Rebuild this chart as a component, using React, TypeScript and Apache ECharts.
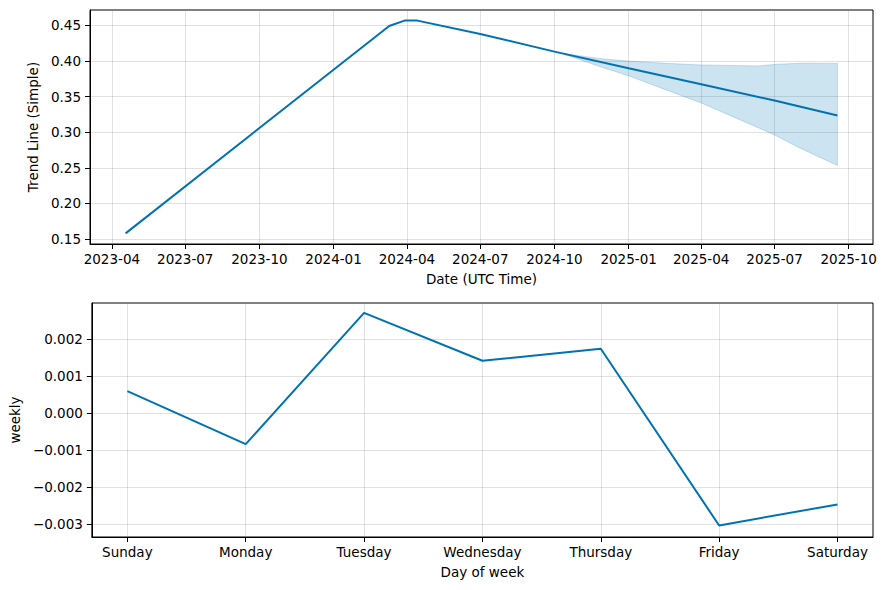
import React, { useEffect, useRef } from "react";
import * as echarts from "echarts";

// ---- Top panel: trend ----
const trendDates = [
  "2023-04-18", "2024-03-10", "2024-03-29", "2024-04-14", "2024-07-01",
  "2024-10-01", "2025-01-01", "2025-04-01", "2025-07-01", "2025-09-17",
];
const trendValues = [0.158, 0.449, 0.4565, 0.4565, 0.4378, 0.413, 0.3897, 0.3673, 0.3443, 0.3233];

const bandDates = [
  "2024-10-10", "2024-11-25", "2025-01-01", "2025-02-15", "2025-04-01",
  "2025-06-12", "2025-07-01", "2025-07-31", "2025-09-17",
];
const bandUpper = [0.4105, 0.4035, 0.3997, 0.3967, 0.3943, 0.393, 0.395, 0.3967, 0.3965];
const bandLower = [0.4105, 0.3925, 0.379, 0.36, 0.341, 0.3056, 0.296, 0.2786, 0.2532];

const dateTickLabels = [
  "2023-04", "2023-07", "2023-10", "2024-01", "2024-04", "2024-07",
  "2024-10", "2025-01", "2025-04", "2025-07", "2025-10",
];
const trendTicks = [0.15, 0.2, 0.25, 0.3, 0.35, 0.4, 0.45];

// ---- Bottom panel: weekly ----
const days = ["Sunday", "Monday", "Tuesday", "Wednesday", "Thursday", "Friday", "Saturday"];
const weeklyValues = [0.000595, -0.000838, 0.00271, 0.001414, 0.001738, -0.003038, -0.00247];
const weeklyTicks = [-0.003, -0.002, -0.001, 0, 0.001, 0.002];

const ts = (s: string) => {
  const [y, m, d] = s.split("-").map(Number);
  return Date.UTC(y, m - 1, d || 1);
};

const FONT = "DejaVu Sans";
const FS = 13.5;
const BLUE = "#0072B2";
const GRID_LINE = "rgba(128,128,128,0.24)";

export default function App() {
  const ref = useRef<HTMLDivElement>(null);

  useEffect(() => {
    if (!ref.current) return;
    const chart = echarts.init(ref.current, undefined, { renderer: "svg" });

    const dStart = ts(trendDates[0]);
    const dEnd = ts(trendDates[trendDates.length - 1]);
    const pad = (dEnd - dStart) * 0.05;

    const bandData = bandDates.map((d, i) => [ts(d), bandLower[i], bandUpper[i]]);

    const axisCommon = {
      axisLine: { show: true, onZero: false, lineStyle: { color: "#000", width: 1 } },
      axisTick: { show: true, inside: false, length: 5, lineStyle: { color: "#000", width: 1 } },
      splitLine: { show: true, lineStyle: { color: GRID_LINE, width: 1 } },
      nameTextStyle: { fontFamily: FONT, fontSize: FS, color: "#000" },
    };

    const option: any = {
      animation: false,
      backgroundColor: "#fff",
      textStyle: { fontFamily: FONT, fontSize: FS, color: "#000" },
      grid: [
        { left: 90, right: 14, top: 10, height: 234, show: true, borderColor: "#000", borderWidth: 1 },
        { left: 90, right: 14, top: 303, height: 234, show: true, borderColor: "#000", borderWidth: 1 },
      ],
      xAxis: [
        {
          ...axisCommon,
          type: "value",
          gridIndex: 0,
          min: dStart - pad,
          max: dEnd + pad,
          name: "Date (UTC Time)",
          nameLocation: "middle",
          nameGap: 28,
          axisTick: { ...axisCommon.axisTick, customValues: dateTickLabels.map(ts) },
          axisLabel: {
            customValues: dateTickLabels.map(ts),
            margin: 8,
            fontFamily: FONT,
            fontSize: FS,
            color: "#000",
            formatter: (v: number) => {
              const d = new Date(v);
              return `${d.getUTCFullYear()}-${String(d.getUTCMonth() + 1).padStart(2, "0")}`;
            },
          },
        },
        {
          ...axisCommon,
          type: "value",
          gridIndex: 1,
          min: -0.3,
          max: 6.3,
          name: "Day of week",
          nameLocation: "middle",
          nameGap: 28,
          axisTick: { ...axisCommon.axisTick, customValues: days.map((_, i) => i) },
          axisLabel: {
            customValues: days.map((_, i) => i),
            margin: 8,
            fontFamily: FONT,
            fontSize: FS,
            color: "#000",
            formatter: (v: number) => days[Math.round(v)] ?? "",
          },
        },
      ],
      yAxis: [
        {
          ...axisCommon,
          type: "value",
          gridIndex: 0,
          min: 0.1431,
          max: 0.4714,
          name: "Trend Line (Simple)",
          nameLocation: "middle",
          nameGap: 46,
          axisTick: { ...axisCommon.axisTick, customValues: trendTicks },
          axisLabel: {
            customValues: trendTicks,
            margin: 9,
            fontFamily: FONT,
            fontSize: FS,
            color: "#000",
            formatter: (v: number) => v.toFixed(2),
          },
        },
        {
          ...axisCommon,
          type: "value",
          gridIndex: 1,
          min: -0.00335,
          max: 0.002975,
          name: "weekly",
          nameLocation: "middle",
          nameGap: 65,
          axisTick: { ...axisCommon.axisTick, customValues: weeklyTicks },
          axisLabel: {
            customValues: weeklyTicks,
            margin: 9,
            fontFamily: FONT,
            fontSize: FS,
            color: "#000",
            formatter: (v: number) => v.toFixed(3).replace("-", "\u2212"),
          },
        },
      ],
      series: [
        {
          type: "custom",
          xAxisIndex: 0,
          yAxisIndex: 0,
          data: bandData,
          encode: { x: 0, y: [1, 2] },
          z: 2,
          renderItem: (params: any, api: any) => {
            if (params.dataIndex !== 0) return null;
            const upperPts = bandData.map((r) => api.coord([r[0], r[2]]));
            const lowerPts = bandData.map((r) => api.coord([r[0], r[1]])).reverse();
            return {
              type: "polygon",
              shape: { points: upperPts.concat(lowerPts) },
              style: {
                fill: "rgba(0,114,178,0.2)",
                stroke: "rgba(0,114,178,0.2)",
                lineWidth: 1,
              },
            };
          },
        },
        {
          type: "line",
          xAxisIndex: 0,
          yAxisIndex: 0,
          symbol: "none",
          data: trendDates.map((d, i) => [ts(d), trendValues[i]]),
          lineStyle: { color: BLUE, width: 2 },
          z: 3,
        },
        {
          type: "line",
          xAxisIndex: 1,
          yAxisIndex: 1,
          symbol: "none",
          data: weeklyValues.map((v, i) => [i, v]),
          lineStyle: { color: BLUE, width: 2 },
          z: 3,
        },
      ],
    };

    chart.setOption(option);
    return () => chart.dispose();
  }, []);

  return (
    <div
      ref={ref}
      style={{ position: "fixed", left: 0, top: 0, width: 887, height: 590, background: "#fff" }}
    />
  );
}
